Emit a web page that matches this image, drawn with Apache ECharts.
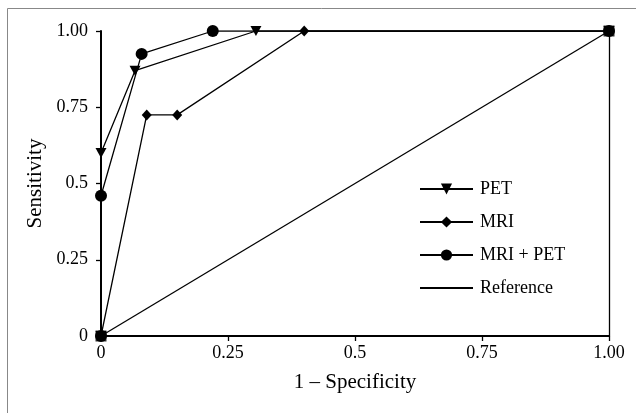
<!DOCTYPE html>
<html>
<head>
<meta charset="utf-8">
<script src="https://cdn.jsdelivr.net/npm/echarts@6/dist/echarts.min.js"></script>
<style>html,body{margin:0;padding:0;background:#fff;}#c{width:636px;height:413px;}</style>
</head>
<body>
<div id="c"></div>
<script>
// Data
var petPoints = [[0, 0], [0, 0.6], [0.067, 0.87], [0.305, 1.0], [1.0, 1.0]];
var mriPoints = [[0, 0], [0.09, 0.725], [0.15, 0.725], [0.4, 1.0], [1.0, 1.0]];
var mriPetPoints = [[0, 0], [0, 0.46], [0.08, 0.925], [0.22, 1.0], [1.0, 1.0]];
var referencePoints = [[0, 0], [1.0, 1.0]];
var tickValues = [0, 0.25, 0.5, 0.75, 1.0];
var tickLabels = ['0', '0.25', '0.5', '0.75', '1.00'];
var seriesNames = ['PET', 'MRI', 'MRI + PET', 'Reference'];

var font = 'Liberation Serif';
function fmt(v) {
  for (var i = 0; i < tickValues.length; i++) {
    if (Math.abs(tickValues[i] - v) < 1e-9) return tickLabels[i];
  }
  return '';
}
var legendData = seriesNames.map(function (n) {
  return n === 'Reference' ? { name: n, itemStyle: { color: 'rgba(0,0,0,0)', borderWidth: 0, opacity: 0 } } : { name: n };
});
var chart = echarts.init(document.getElementById('c'));
var lineStyle = { color: '#000', width: 1.3 };
chart.setOption({
  animation: false,
  backgroundColor: '#fff',
  graphic: [
    { type: 'line', shape: { x1: 7.5, y1: 8.5, x2: 636, y2: 8.5 }, style: { stroke: '#888', lineWidth: 1 } },
    { type: 'line', shape: { x1: 7.5, y1: 8.5, x2: 7.5, y2: 413 }, style: { stroke: '#888', lineWidth: 1 } }
  ],
  grid: { left: 101, right: 27, top: 31, bottom: 77 },
  legend: {
    orient: 'vertical',
    left: 414,
    top: 175,
    itemWidth: 53,
    itemHeight: 14,
    itemGap: 15,
    data: legendData,
    textStyle: { fontFamily: font, fontSize: 18, lineHeight: 16, color: '#000', padding: [0, 0, 0, 2] }
  },
  xAxis: {
    type: 'value', min: 0, max: 1, interval: 0.25,
    name: '1 – Specificity', nameLocation: 'middle', nameGap: 36,
    nameTextStyle: { fontFamily: font, fontSize: 21, color: '#000' },
    axisLine: { show: true, onZero: false, lineStyle: { color: '#000', width: 2 } },
    axisTick: { show: true, length: 5, lineStyle: { color: '#000', width: 1.3 } },
    axisLabel: { fontFamily: font, fontSize: 18, color: '#000', margin: 8, formatter: fmt, showMinLabel: true, showMaxLabel: true },
    splitLine: { show: false }
  },
  yAxis: [{
    type: 'value', min: 0, max: 1, interval: 0.25,
    name: 'Sensitivity', nameLocation: 'middle', nameGap: 52, nameRotate: 90,
    nameTextStyle: { fontFamily: font, fontSize: 21, color: '#000' },
    axisLine: { show: true, onZero: false, lineStyle: { color: '#000', width: 2 } },
    axisTick: { show: true, length: 5, lineStyle: { color: '#000', width: 1.3 } },
    axisLabel: { fontFamily: font, fontSize: 18, color: '#000', margin: 13, formatter: fmt },
    splitLine: { show: false }
  }, {
    type: 'value', min: 0, max: 1, interval: 0.25, position: 'right',
    axisLine: { show: true, onZero: false, lineStyle: { color: '#000', width: 1.3 } },
    axisTick: { show: false }, axisLabel: { show: false }, splitLine: { show: false }
  }],
  series: [
    { name: 'PET', type: 'line', data: petPoints, symbol: 'triangle', symbolRotate: 180, symbolSize: [11, 10],
      lineStyle: lineStyle, itemStyle: { color: '#000' }, z: 3 },
    { name: 'MRI', type: 'line', data: mriPoints, symbol: 'diamond', symbolSize: [10, 11],
      lineStyle: lineStyle, itemStyle: { color: '#000' }, z: 3 },
    { name: 'MRI + PET', type: 'line', data: mriPetPoints, symbol: 'circle', symbolSize: 12,
      lineStyle: lineStyle, itemStyle: { color: '#000' }, z: 3 },
    { name: 'Reference', type: 'line', data: referencePoints, symbol: 'none', showSymbol: false,
      lineStyle: lineStyle, itemStyle: { color: '#000' }, z: 2 },
    { name: 'refEnds', type: 'scatter', data: referencePoints, symbol: 'rect', symbolSize: 11,
      itemStyle: { color: '#000' }, z: 4 }
  ]
});
</script>
</body>
</html>
